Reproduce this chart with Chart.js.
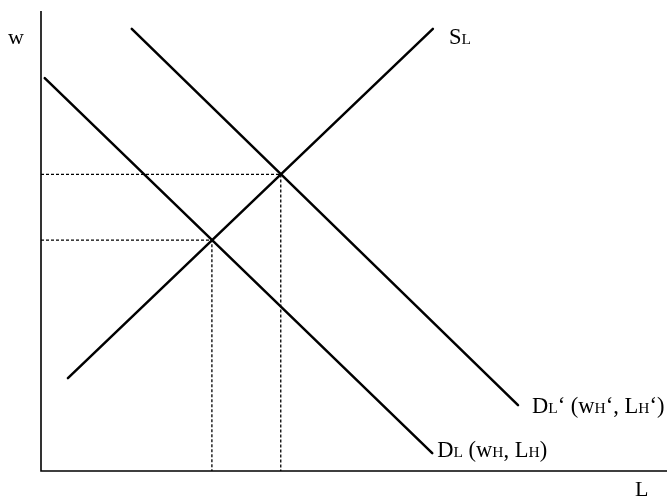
<!DOCTYPE html>
<html>
<head>
<meta charset="utf-8">
<script src="https://cdn.jsdelivr.net/npm/chart.js@4"></script>
<style>
  html, body { margin: 0; padding: 0; background: #fff; }
  #wrap { width: 672px; height: 498px; position: relative; }
</style>
</head>
<body>
<div id="wrap"><canvas id="c"></canvas></div>
<script>
// Data (abstract units, 0..100 on both axes)
const supplyX = [4.3, 62.6];
const supplyY = [20.2, 96.1];
const demandX = [0.6, 62.5];
const demandY = [85.4, 3.9];
const demandShiftX = [14.5, 76.2];
const demandShiftY = [96.1, 14.3];
const equilibriumX = [27.3, 38.3];
const equilibriumY = [50.2, 64.5];
const axisLabels = ['L', 'w'];

function pts(xs, ys) { return xs.map((x, i) => ({ x: x, y: ys[i] })); }
function guide(i) {
  return [{ x: 0, y: equilibriumY[i] }, { x: equilibriumX[i], y: equilibriumY[i] }, { x: equilibriumX[i], y: 0 }];
}

const BIG = '22.5px "Liberation Serif", "Times New Roman", serif';
const SMALL = '15.5px "Liberation Serif", "Times New Roman", serif';

function drawRich(ctx, x, y, segs) {
  let cx = x;
  segs.forEach(s => {
    ctx.font = s[1] ? SMALL : BIG;
    ctx.fillText(s[0], cx, y);
    cx += ctx.measureText(s[0]).width;
  });
}

const labelPlugin = {
  id: 'labels',
  beforeDatasetsDraw(chart) {
    const ctx = chart.ctx, xs = chart.scales.x, ys = chart.scales.y;
    ctx.save();
    ctx.strokeStyle = '#000';
    ctx.lineWidth = 1.6;
    ctx.beginPath();
    ctx.moveTo(xs.getPixelForValue(0), ys.getPixelForValue(100));
    ctx.lineTo(xs.getPixelForValue(0), ys.getPixelForValue(0));
    ctx.lineTo(xs.getPixelForValue(100), ys.getPixelForValue(0));
    ctx.stroke();
    ctx.restore();
  },
  afterDatasetsDraw(chart) {
    const ctx = chart.ctx, xs = chart.scales.x, ys = chart.scales.y;
    ctx.save();
    ctx.fillStyle = '#000';
    ctx.textBaseline = 'alphabetic';
    ctx.textAlign = 'left';
    const bigAxis = '22px "Liberation Serif", "Times New Roman", serif';
    ctx.font = bigAxis;
    // w
    ctx.fillText(axisLabels[1], xs.getPixelForValue(0) - 33, ys.getPixelForValue(100) + 33);
    // L
    ctx.fillText(axisLabels[0], xs.getPixelForValue(100) - 32, ys.getPixelForValue(0) + 25);
    // S_L
    let ex = xs.getPixelForValue(supplyX[1]), ey = ys.getPixelForValue(supplyY[1]);
    drawRich(ctx, ex + 16, ey + 15, [['S', 0], ['L', 1]]);
    // D_L'
    ex = xs.getPixelForValue(demandShiftX[1]); ey = ys.getPixelForValue(demandShiftY[1]);
    drawRich(ctx, ex + 14, ey + 8, [['D', 0], ['L', 1], ['\u2018 (w', 0], ['H', 1], ['\u2018, L', 0], ['H', 1], ['\u2018)', 0]]);
    // D_L
    ex = xs.getPixelForValue(demandX[1]); ey = ys.getPixelForValue(demandY[1]);
    drawRich(ctx, ex + 5, ey + 4, [['D', 0], ['L', 1], [' (w', 0], ['H', 1], [', L', 0], ['H', 1], [')', 0]]);
    ctx.restore();
  }
};

const solid = { borderColor: '#000', borderWidth: 2.5, pointRadius: 0, showLine: true, fill: false, borderCapStyle: 'round', clip: false };
const dotted = { borderColor: '#000', borderWidth: 1.3, pointRadius: 0, showLine: true, fill: false, borderDash: [3, 2], clip: false };

new Chart(document.getElementById('c'), {
  type: 'scatter',
  data: {
    datasets: [
      Object.assign({ label: 'guide1', data: guide(0) }, dotted),
      Object.assign({ label: 'guide2', data: guide(1) }, dotted),
      Object.assign({ label: 'S_L', data: pts(supplyX, supplyY) }, solid),
      Object.assign({ label: 'D_L', data: pts(demandX, demandY) }, solid),
      Object.assign({ label: "D_L'", data: pts(demandShiftX, demandShiftY) }, solid)
    ]
  },
  options: {
    responsive: true,
    maintainAspectRatio: false,
    animation: false,
    layout: { padding: { left: 41, right: 5, top: 11, bottom: 27 } },
    plugins: { legend: { display: false }, tooltip: { enabled: false } },
    scales: {
      x: { type: 'linear', min: 0, max: 100, display: false },
      y: { type: 'linear', min: 0, max: 100, display: false }
    }
  },
  plugins: [labelPlugin]
});
</script>
</body>
</html>
